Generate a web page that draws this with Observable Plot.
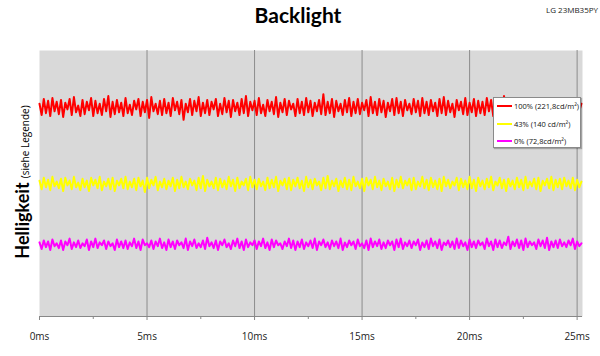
<!DOCTYPE html>
<html>
<head>
<meta charset="utf-8">
<script src="https://cdn.jsdelivr.net/npm/d3@7"></script>
<script src="https://cdn.jsdelivr.net/npm/@observablehq/plot@0.6"></script>
<style>
  html, body { margin: 0; padding: 0; background: #fff; }
  #wrap { position: relative; width: 600px; height: 356px; overflow: hidden; font-family: "Open Sans", sans-serif; }
  #chart { position: absolute; left: 0; top: 0; }
  #title { position: absolute; left: 0; width: 596px; top: 2px; text-align: center; font-family: Lato, "Open Sans", sans-serif; font-weight: bold; font-size: 21px; color: #000; }
  #model { position: absolute; right: 2px; top: 4px; font-size: 8px; color: #222; }
  #ylab { position: absolute; left: 22px; top: 182px; transform: translate(-50%, -50%) rotate(-90deg); white-space: nowrap; color: #000; }
  #ylab .big { font-family: Lato, "Open Sans", sans-serif; font-weight: bold; font-size: 18px; }
  #ylab .small { font-size: 10px; }
  #legend { position: absolute; left: 493px; top: 97px; width: 88px; height: 51px; background: #fff; border: 1px solid #8a8a8a; box-shadow: 1px 1px 1px rgba(0,0,0,0.25); box-sizing: border-box; font-size: 7.5px; color: #111; }
  #legend .row { position: absolute; left: 3px; height: 10px; display: flex; align-items: center; white-space: nowrap; }
  #legend .sw { width: 15px; height: 2px; margin-right: 2px; }
</style>
</head>
<body>
<div id="wrap">
  <div id="chart"></div>
  <div id="title">Backlight</div>
  <div id="model">LG 23MB35PY</div>
  <div id="ylab"><span class="big">Helligkeit</span> <span class="small">(siehe Legende)</span></div>
  <div id="legend"></div>
</div>
<script>
// sampling interval of the measured traces (ms)
const sampleInterval = 0.1;

const seriesNames = ["100% (221,8cd/m²)", "43% (140 cd/m²)", "0% (72,8cd/m²)"];
const seriesColors = ["#ff0000", "#ffff00", "#ff00ff"];

const red = [
224,212,229,214,227,211,230,216,226,213,228,210,225,218,229,212,231,215,222,211,
228,213,226,217,230,211,227,214,224,212,229,216,232,210,226,213,228,215,225,211,
230,214,223,212,227,218,229,211,226,215,228,209,231,216,224,213,227,212,229,214,
225,211,230,217,226,213,228,207,224,215,229,212,227,216,231,211,225,214,228,212,
226,218,229,211,224,213,230,215,227,210,228,216,225,212,229,214,232,211,226,217,
227,212,230,214,223,211,228,216,226,213,231,210,225,215,229,212,227,218,224,211,
229,214,226,212,230,215,227,211,225,216,228,213,234,212,226,214,229,210,227,216,
224,212,228,215,230,211,226,214,229,213,225,217,228,211,231,214,226,212,229,215,
227,210,225,216,229,212,230,214,226,211,228,217,224,213,229,215,227,211,230,214,
226,212,228,216,225,211,229,214,231,212,227,215,224,210,228,217,226,213,230,212,
225,215,229,211,227,214,226,212,230,216,228,211,225,214,229,212,232,215,226,211,
228,213,224,216,229,212,227,215,230,211,226,214,228,212,225,217,229,211,227,214,
226,212,229,215,224,220,228,213,230,212,227,216,224];

const yellow = [
143,134,146,136,144,133,147,137,142,135,145,132,146,138,143,134,147,136,141,133,
145,136,143,132,146,138,144,135,147,133,142,137,145,134,146,132,143,138,145,135,
147,134,142,136,145,133,146,137,143,131,146,135,144,138,147,133,142,136,145,134,
143,137,146,132,144,135,147,136,142,134,145,138,143,133,146,135,148,132,144,137,
142,135,146,133,145,136,143,134,147,137,144,132,146,135,142,138,145,133,147,136,
144,134,145,137,142,133,146,135,144,136,147,132,143,138,145,134,146,133,144,137,
146,135,143,132,147,136,144,134,145,138,142,133,146,135,148,134,143,137,145,132,
143,136,146,134,144,133,147,137,142,135,145,132,146,138,144,134,147,136,143,133,
145,137,142,134,146,132,144,136,147,135,143,138,145,133,146,134,142,137,147,135,
144,133,146,136,143,134,145,132,147,137,144,135,142,138,146,133,145,136,143,134,
147,135,144,132,146,137,143,134,145,136,147,133,142,138,146,135,144,132,145,137,
143,134,146,136,144,133,147,135,142,137,145,134,146,132,143,138,145,135,147,133,
144,136,145,134,146,137,143,135,146,133,144,136,142];

const magenta = [
78,71,80,73,79,70,81,74,77,72,80,70,79,75,82,71,78,73,80,72,
77,74,81,70,79,73,82,72,78,75,80,71,79,74,77,70,81,73,79,72,
80,71,78,74,82,72,79,70,81,75,77,73,80,71,79,74,82,72,78,70,
81,73,79,71,80,75,78,72,82,70,79,74,81,72,77,73,80,71,83,74,
78,72,80,70,79,75,81,73,77,71,80,74,82,72,79,70,81,73,78,75,
80,71,79,74,82,72,78,70,81,73,80,75,77,71,79,74,82,72,80,70,
79,73,81,71,78,74,80,72,82,70,79,75,81,73,78,71,80,74,79,72,
82,70,78,73,80,75,79,71,81,74,77,72,80,70,82,73,79,74,81,71,
78,72,80,75,79,70,81,73,82,71,78,74,80,72,79,75,81,70,78,73,
80,71,82,74,79,72,81,70,78,75,80,73,79,71,82,72,80,74,78,70,
81,73,79,72,80,75,78,71,82,74,79,70,81,73,80,72,78,75,84,71,
79,74,81,72,80,70,82,73,79,75,78,71,81,74,80,72,83,70,79,73,
80,72,81,74,78,73,80,75,82,71,79,74,77];

const majorTicks = [0, 5, 10, 15, 20, 25];
const minorTicks = [2.5, 7.5, 12.5, 17.5, 22.5];
const gridTicks = [5, 10, 15, 20, 25];

const allSeries = [red, yellow, magenta];
const lineMarks = allSeries.map((s, k) =>
  Plot.line(s, {x: (d, i) => i * sampleInterval, y: d => d, stroke: seriesColors[k], strokeWidth: 2})
);

const chart = Plot.plot({
  width: 600,
  height: 356,
  marginTop: 50,
  marginLeft: 39,
  marginRight: 18,
  marginBottom: 40,
  style: {fontFamily: "'Open Sans', sans-serif", fontSize: "10px", background: "transparent", color: "#222"},
  x: {domain: [0, 25.25], axis: null},
  y: {domain: [0, 280], axis: null},
  marks: [
    Plot.frame({fill: "#d9d9d9", stroke: null}),
    Plot.ruleX(gridTicks, {stroke: "#8c8c8c", strokeWidth: 1}),
    ...lineMarks,
    Plot.ruleY([0], {stroke: "#888", strokeWidth: 1}),
    Plot.axisX(majorTicks, {tickSize: 4, tickPadding: 12, tickFormat: d => d + "ms", stroke: "#888", fill: "#222", fontSize: 10}),
    Plot.axisX(minorTicks, {tickSize: 3, tickFormat: () => "", stroke: "#888"})
  ]
});
document.getElementById("chart").appendChild(chart);

const legend = document.getElementById("legend");
const rowTops = [3, 21, 38];
seriesNames.forEach((name, k) => {
  const row = document.createElement("div");
  row.className = "row";
  row.style.top = rowTops[k] + "px";
  const sw = document.createElement("span");
  sw.className = "sw";
  sw.style.background = seriesColors[k];
  const t = document.createElement("span");
  t.textContent = name;
  row.appendChild(sw);
  row.appendChild(t);
  legend.appendChild(row);
});
</script>
</body>
</html>
